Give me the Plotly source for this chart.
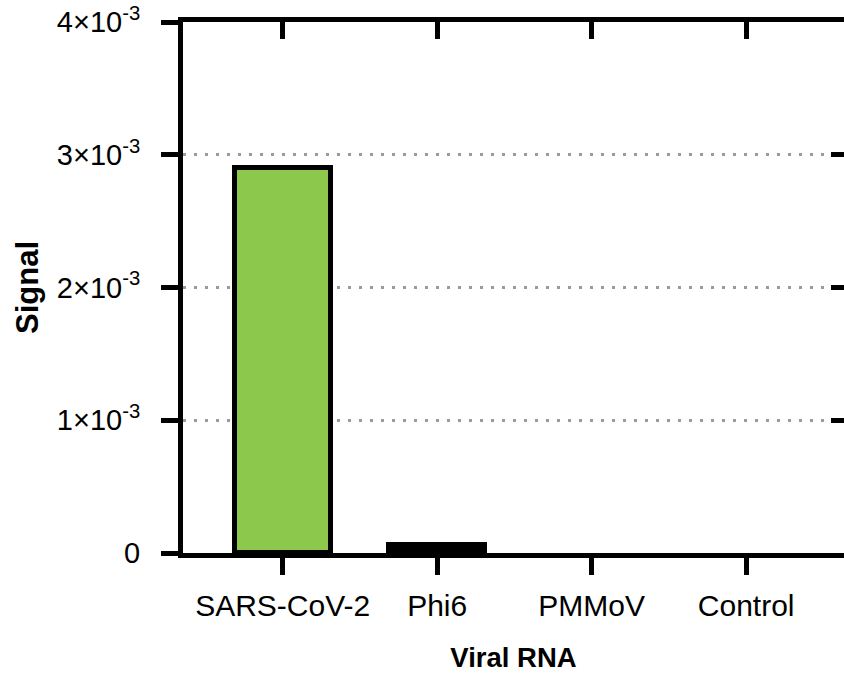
import plotly.graph_objects as go

categories = ["SARS-CoV-2", "Phi6", "PMMoV", "Control"]
signal = [2.9e-3, 0.06e-3, 0.0, 0.0]
bar_colors = ["#8BC84B", "#000000", "#000000", "#000000"]
y_tickvals = [0, 1e-3, 2e-3, 3e-3, 4e-3]
y_ticktext = ["0", "1×10<sup>-3</sup>", "2×10<sup>-3</sup>", "3×10<sup>-3</sup>", "4×10<sup>-3</sup>"]

FONT = "Liberation Sans, Arial, sans-serif"
xr = [-0.645, 3.633]
yr = [0, 4e-3]

outline_widths = [5 if v > 0 else 0 for v in signal]

fig = go.Figure()
fig.add_trace(go.Bar(
    x=categories, y=signal, width=0.62,
    marker=dict(color=bar_colors, line=dict(color="black", width=outline_widths)),
    showlegend=False,
))
fig.add_trace(go.Scatter(x=[], y=[], xaxis="x2", yaxis="y2", showlegend=False))

fig.update_layout(
    width=844, height=673,
    margin=dict(l=183, r=0, t=22, b=120),
    paper_bgcolor="white", plot_bgcolor="white",
    font=dict(family=FONT, color="black", size=28),
    bargap=0,
    xaxis=dict(
        range=xr, showline=True, linecolor="black", linewidth=5,
        ticks="outside", ticklen=17, tickwidth=5, tickcolor="black",
        tickfont=dict(size=30), ticklabelstandoff=5,
        showgrid=False, zeroline=False,
        title=dict(text="<b>Viral RNA</b>", font=dict(size=27.5), standoff=32),
    ),
    yaxis=dict(
        range=yr, tickvals=y_tickvals, ticktext=y_ticktext,
        showline=True, linecolor="black", linewidth=5,
        ticks="outside", ticklen=17, tickwidth=5, tickcolor="black",
        tickfont=dict(size=29), ticklabelstandoff=15,
        showgrid=True, gridcolor="#9a9a9a", gridwidth=3, griddash="3px,8px",
        zeroline=False,
        title=dict(text="<b>Signal</b>", font=dict(size=31), standoff=10),
    ),
    xaxis2=dict(
        overlaying="x", side="top", anchor="y", range=xr,
        tickvals=[0, 1, 2, 3], showticklabels=False,
        showline=True, linecolor="black", linewidth=5,
        ticks="inside", ticklen=17, tickwidth=5, tickcolor="black",
        showgrid=False, zeroline=False,
    ),
    yaxis2=dict(
        overlaying="y", side="right", anchor="x", range=yr,
        tickvals=y_tickvals[1:], showticklabels=False,
        showline=True, linecolor="black", linewidth=5,
        ticks="inside", ticklen=13, tickwidth=5, tickcolor="black",
        showgrid=False, zeroline=False,
    ),
)

fig.write_html("out.html", config={"displayModeBar": False},
               post_script="document.body.style.margin='0';")
